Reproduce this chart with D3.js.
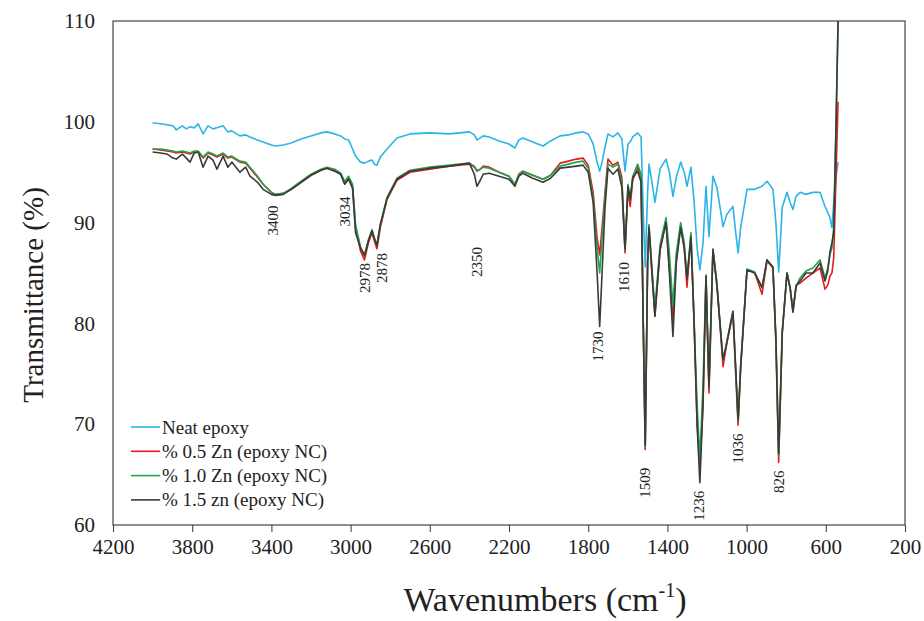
<!DOCTYPE html>
<html>
<head>
<meta charset="utf-8">
<script src="https://cdn.jsdelivr.net/npm/d3@7"></script>
<style>
  html, body { margin: 0; padding: 0; background: #fff; }
  svg { display: block; }
  svg text { font-family: "Liberation Serif", "Times New Roman", serif; }
</style>
</head>
<body>
<svg id="chart" width="924" height="621"></svg>
<script>
// ---- Data ----
const wavenumbers = [4000,3960,3927,3897,3880,3850,3830,3811,3790,3770,3745,3720,3695,3675,3644,3620,3600,3559,3530,3508,3470,3442,3400,3380,3340,3300,3250,3200,3150,3120,3080,3050,3030,3010,2990,2975,2950,2930,2910,2892,2880,2867,2850,2816,2766,2700,2600,2500,2400,2375,2362,2345,2330,2300,2250,2200,2170,2150,2130,2080,2028,1990,1942,1900,1860,1826,1800,1775,1755,1742,1730,1715,1700,1675,1650,1630,1614,1599,1588,1575,1550,1533,1522,1512,1500,1493,1478,1463,1437,1407,1390,1372,1355,1333,1315,1301,1281,1265,1250,1236,1220,1205,1190,1170,1150,1119,1100,1069,1055,1043,1030,998,960,922,897,867,852,838,820,796,780,766,750,730,700,665,629,604,590,579,569,560,548,538];

const neatEpoxy = [99.9,99.8,99.7,99.6,99.2,99.6,99.3,99.5,99.4,99.8,98.8,99.6,99.3,99.4,99.6,99.0,99.1,98.6,98.7,98.5,98.2,98.0,97.7,97.6,97.7,97.9,98.3,98.6,98.9,99.0,98.8,98.6,98.3,98.2,97.3,96.6,96.0,95.9,96.1,96.2,95.8,95.7,96.5,97.3,98.4,98.8,98.9,98.8,99.0,98.7,98.2,98.4,98.6,98.5,98.1,97.8,97.4,98.2,98.4,98.0,97.6,98.1,98.6,98.7,98.9,99.0,98.8,97.8,96.0,95.1,96.0,97.5,98.8,98.5,98.9,98.3,95.1,97.8,98.0,98.5,98.9,98.5,91.0,85.6,93.0,95.8,94.0,92.0,95.3,96.3,95.0,92.6,94.5,96.0,95.0,93.6,95.5,92.0,87.5,85.3,88.0,93.6,88.6,94.6,93.5,89.6,90.8,91.6,89.0,87.0,89.5,93.3,93.3,93.6,94.1,93.3,90.0,85.1,91.5,93.0,92.0,91.3,92.6,93.0,92.8,93.0,93.0,91.6,91.0,90.5,89.5,92.0,94.5,96.0];

const zn05 = [97.3,97.2,97.1,97.0,96.9,97.0,96.9,96.8,97.0,97.0,96.4,96.9,96.7,96.5,96.8,96.4,96.5,96.0,95.9,95.4,94.5,93.8,93.0,92.8,92.9,93.3,94.0,94.7,95.2,95.4,95.2,94.8,93.9,94.5,93.5,89.5,87.2,86.3,88.0,89.0,88.2,87.4,89.5,92.3,94.2,95.0,95.3,95.6,95.8,95.5,95.1,95.3,95.6,95.5,95.0,94.6,93.8,94.8,95.1,94.7,94.3,94.7,95.9,96.1,96.3,96.4,95.7,93.0,88.5,86.8,89.5,93.0,96.3,95.7,96.0,94.5,87.0,93.3,91.6,94.2,95.5,94.5,80.0,67.5,86.0,89.6,85.0,80.8,87.3,90.2,85.5,80.5,86.5,89.7,87.5,83.6,88.8,80.0,70.0,65.8,72.0,84.6,73.1,87.3,84.0,75.7,78.0,81.0,75.0,69.9,75.5,85.3,85.1,82.9,86.2,85.5,78.0,66.2,79.0,85.0,83.5,81.3,83.8,84.0,84.5,85.0,85.5,83.4,83.8,84.7,85.0,86.5,95.0,102.0];

const zn10 = [97.3,97.3,97.2,97.1,97.0,97.1,97.0,96.9,97.1,97.1,96.5,97.0,96.8,96.6,96.9,96.5,96.6,96.1,96.0,95.5,94.6,93.8,93.0,92.8,92.9,93.4,94.1,94.8,95.3,95.5,95.3,94.9,94.1,94.6,93.8,89.8,87.6,86.8,88.3,89.3,88.5,87.8,89.8,92.5,94.4,95.2,95.5,95.7,95.9,95.6,95.2,95.3,95.5,95.4,95.0,94.6,93.8,94.8,95.1,94.7,94.3,94.7,95.6,95.8,96.0,96.1,95.4,92.5,87.5,85.0,88.5,92.5,95.8,95.5,95.8,94.0,87.3,93.8,92.3,94.6,95.8,94.8,80.0,67.8,86.0,89.8,85.5,81.5,87.8,90.5,87.0,81.7,87.0,90.0,88.0,84.6,89.0,80.0,72.0,66.5,74.0,84.8,73.8,87.4,84.0,76.3,78.2,81.2,75.5,70.3,75.8,85.4,85.1,83.5,86.3,85.6,78.5,66.8,79.2,85.0,83.5,81.2,83.7,84.5,85.2,85.5,86.3,84.5,85.5,86.8,87.5,89.5,100.0,110.0];

const zn15 = [97.0,96.9,96.8,96.4,96.3,96.8,96.4,96.0,96.9,97.0,95.5,96.6,96.2,95.3,96.6,95.5,96.0,95.0,95.5,94.6,94.0,93.3,92.8,92.7,92.8,93.3,94.0,94.7,95.2,95.4,95.1,94.8,93.8,94.3,93.4,89.0,87.5,86.7,88.2,89.2,88.4,87.7,89.8,92.4,94.3,95.1,95.4,95.6,95.9,94.8,93.6,94.2,94.8,94.9,94.6,94.3,93.6,94.6,94.9,94.4,94.0,94.4,95.4,95.5,95.6,95.7,95.0,92.0,85.0,79.7,85.0,91.5,95.4,94.8,95.3,93.5,87.4,93.6,92.3,94.5,95.1,94.0,80.0,67.9,86.0,89.5,85.0,80.7,87.3,90.0,85.0,78.7,86.0,89.5,87.5,84.4,88.6,80.0,70.0,64.2,72.0,84.7,73.7,87.3,83.7,76.4,78.1,81.2,75.5,70.4,75.7,85.3,85.0,83.6,86.3,85.6,78.5,67.1,79.1,85.0,83.5,81.1,83.7,84.2,85.0,85.0,86.0,84.2,85.2,87.1,88.0,89.0,100.0,110.0];

const seriesNames = ["Neat epoxy", "% 0.5 Zn (epoxy NC)", "% 1.0 Zn (epoxy NC)", "% 1.5 zn (epoxy NC)"];
const seriesValues = [neatEpoxy, zn05, zn10, zn15];
const seriesColors = ["#2db4e6", "#e8191e", "#1fa54f", "#3a3a3a"];

const xTicks = [4200,3800,3400,3000,2600,2200,1800,1400,1000,600,200];
const yTicks = [60,70,80,90,100,110];

const peakLabels = ["3400","3034","2978","2878","2350","1730","1610","1509","1236","1036","826"];
const peakLabelWn = [3392,3030,2927,2841,2362,1751,1619,1513,1240,1043,836];
const peakLabelT  = [90.2,91.1,84.5,85.5,86.1,77.7,84.6,64.2,61.9,67.6,64.3];

// ---- Layout ----
const svg = d3.select("#chart");
const mL = 113, mR = 905, mT = 21, mB = 525;
const font = "Liberation Serif, Times New Roman, serif";

const x = d3.scaleLinear().domain([4200, 200]).range([mL, mR]);
const y = d3.scaleLinear().domain([60, 110]).range([mB, mT]);

const defs = svg.append("defs");
defs.append("clipPath").attr("id", "plotclip")
  .append("rect").attr("x", mL).attr("y", mT).attr("width", mR - mL).attr("height", mB - mT);

// Axes
const xAxis = d3.axisBottom(x).tickValues(xTicks).tickSize(7).tickPadding(6).tickFormat(d3.format("d"));
const gx = svg.append("g").attr("transform", `translate(0,${mB})`).call(xAxis);
gx.select(".domain").remove();
gx.selectAll(".tick line").attr("stroke", "#444").attr("stroke-width", 1.1);
gx.selectAll(".tick text").attr("font-family", font).attr("font-size", 21).attr("fill", "#222").attr("dy", "0.75em");

const yAxis = d3.axisLeft(y).tickValues(yTicks).tickSize(0).tickPadding(18).tickFormat(d3.format("d"));
const gy = svg.append("g").attr("transform", `translate(${mL},0)`).call(yAxis);
gy.select(".domain").remove();
gy.selectAll(".tick text").attr("font-family", font).attr("font-size", 21).attr("fill", "#222");

// Series
const line = d3.line().defined(d => d != null && !isNaN(d)).x((d, i) => x(wavenumbers[i])).y(d => y(d));
const gLines = svg.append("g").attr("clip-path", "url(#plotclip)");
seriesValues.forEach((vals, k) => {
  gLines.append("path")
    .datum(vals.slice(0, wavenumbers.length))
    .attr("fill", "none")
    .attr("stroke", seriesColors[k])
    .attr("stroke-width", 1.6)
    .attr("stroke-linejoin", "round")
    .attr("d", line);
});

// Frame
svg.append("rect").attr("x", mL).attr("y", mT).attr("width", mR - mL).attr("height", mB - mT)
  .attr("fill", "none").attr("stroke", "#444").attr("stroke-width", 1.2);

// Peak labels
peakLabels.forEach((t, i) => {
  const px = x(peakLabelWn[i]), py = y(peakLabelT[i]);
  svg.append("text")
    .attr("transform", `translate(${px},${py}) rotate(-90)`)
    .attr("text-anchor", "middle")
    .attr("dominant-baseline", "central")
    .attr("font-family", font).attr("font-size", 15).attr("fill", "#222")
    .text(t);
});

// Legend
const legY0 = 427, legDy = 24.3;
seriesNames.forEach((name, k) => {
  const ly = legY0 + k * legDy;
  svg.append("line").attr("x1", 131).attr("x2", 160).attr("y1", ly).attr("y2", ly)
    .attr("stroke", seriesColors[k]).attr("stroke-width", 1.6);
  svg.append("text").attr("x", 162).attr("y", ly).attr("dominant-baseline", "central")
    .attr("font-family", font).attr("font-size", 19).attr("fill", "#222").text(name);
});

// Axis titles
svg.append("text")
  .attr("transform", `translate(33,${(mT + mB) / 2 + 22}) rotate(-90)`)
  .attr("text-anchor", "middle").attr("dominant-baseline", "central")
  .attr("font-family", font).attr("font-size", 29).attr("fill", "#222")
  .text("Transmittance (%)");

const xt = svg.append("text")
  .attr("x", 545).attr("y", 611)
  .attr("text-anchor", "middle")
  .attr("font-family", font).attr("font-size", 34).attr("fill", "#222");
xt.append("tspan").text("Wavenumbers (cm");
xt.append("tspan").attr("font-size", 20).attr("dy", -14).text("-1");
xt.append("tspan").attr("dy", 14).text(")");
</script>
</body>
</html>
